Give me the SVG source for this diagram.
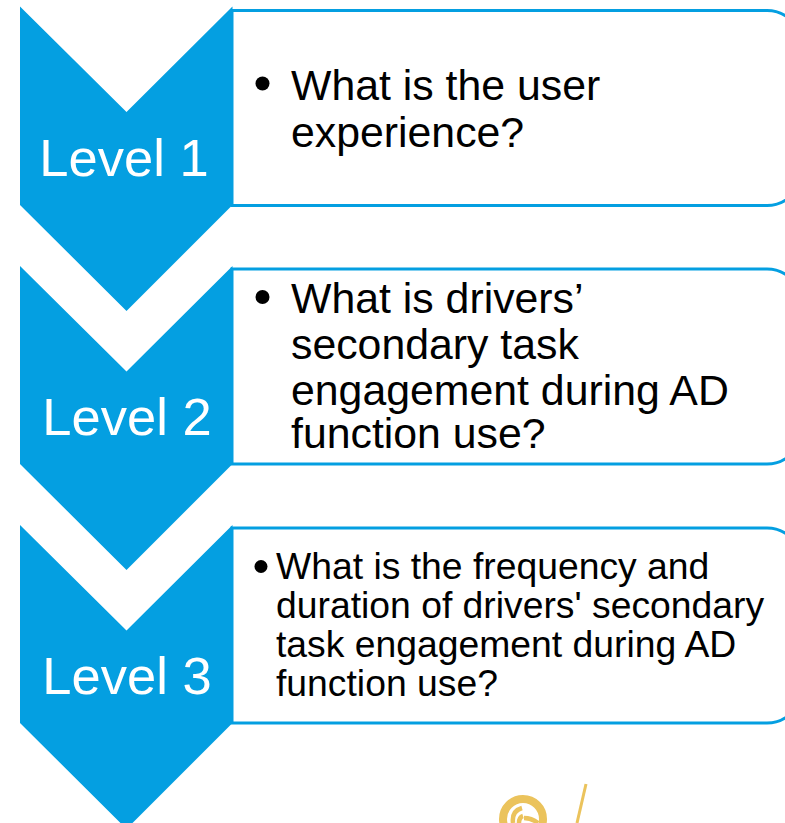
<svg xmlns="http://www.w3.org/2000/svg" width="785" height="823" viewBox="0 0 785 823">
<style>
text{font-family:"Liberation Sans",Arial,sans-serif}
.chev{fill:#049fe1}
.lvl{fill:#fff;font-size:52.500px;text-anchor:middle}
.box{fill:#fff;stroke:#049fe1;stroke-width:3}
.big{fill:#000;font-size:42.800px}
.small{fill:#000;font-size:37.300px}
.gold{fill:none;stroke:#ebc35c}
</style>
<rect width="785" height="823" fill="#fff"/>
<g id="level1">
<path class="box" d="M232 10.500H767A34 34 0 0 1 801 44.500V171.500A34 34 0 0 1 767 205.500H232Z"/>
<path class="chev" d="M20 6.500L126.500 112L232.500 6.500V205L126.500 311L20 205Z"/>
<text class="lvl" x="124" y="176">Level 1</text>
<circle cx="262.500" cy="83.500" r="7"/>
<text class="big" x="291" y="100">What is the user</text>
<text class="big" x="291" y="147">experience?</text>
</g>
<g id="level2">
<path class="box" d="M232 269H767A34 34 0 0 1 801 303V430A34 34 0 0 1 767 464H232Z"/>
<path class="chev" d="M20 266L126.500 371.500L232.500 266V464L126.500 570L20 464Z"/>
<text class="lvl" x="127" y="435">Level 2</text>
<circle cx="262.500" cy="297" r="7"/>
<text class="big" x="291" y="313">What is drivers’</text>
<text class="big" x="291" y="359">secondary task</text>
<text class="big" x="291" y="405">engagement during AD</text>
<text class="big" x="291" y="448">function use?</text>
</g>
<g id="level3">
<path class="box" d="M232 528H767A34 34 0 0 1 801 562V689A34 34 0 0 1 767 723H232Z"/>
<path class="chev" d="M20 525L126.500 630.500L232.500 525V723L126.500 829L20 723Z"/>
<text class="lvl" x="127" y="694">Level 3</text>
<circle cx="261" cy="566.500" r="6.500"/>
<text class="small" x="276" y="579">What is the frequency and</text>
<text class="small" x="276" y="618">duration of drivers' secondary</text>
<text class="small" x="276" y="657">task engagement during AD</text>
<text class="small" x="276" y="696">function use?</text>
</g>
<g id="mark">
<circle class="gold" cx="523" cy="819" r="20" stroke-width="8"/>
<path class="gold" d="M513 823c-1-8 2-13 9-15M519 823c0-3 1-6 4-7M524 818c5 0 10 2 14 5" stroke-width="4.500"/>
<path class="gold" d="M586 784L577 823" stroke-width="3"/>
</g>
</svg>
